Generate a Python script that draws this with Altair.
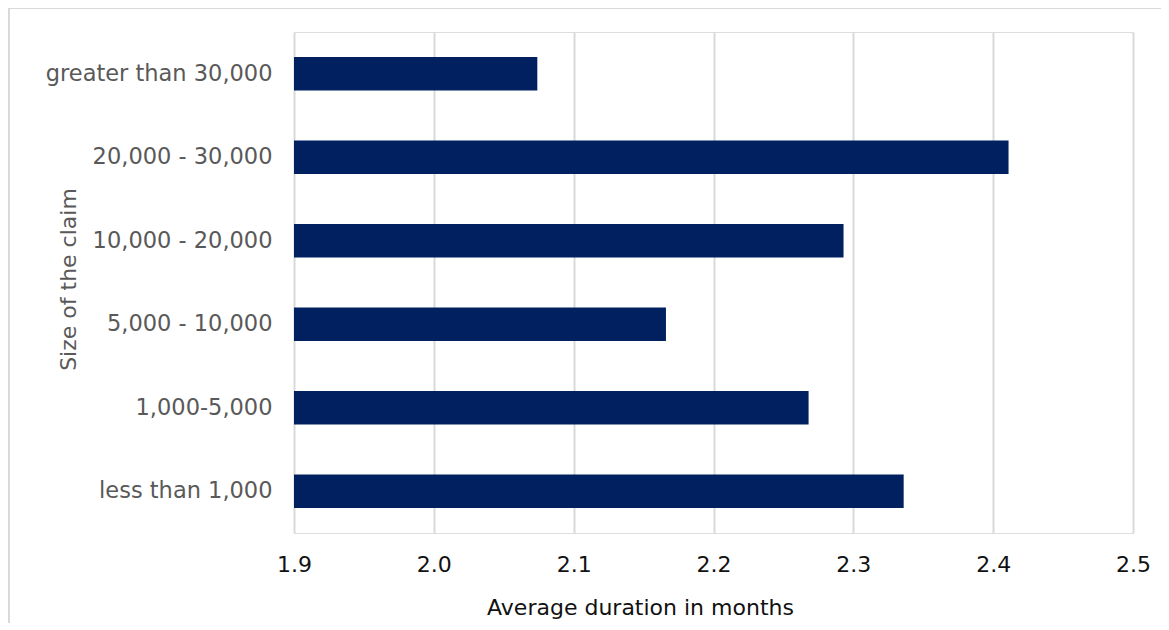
import altair as alt
import pandas as pd

categories = [
    "greater than 30,000",
    "20,000 - 30,000",
    "10,000 - 20,000",
    "5,000 - 10,000",
    "1,000-5,000",
    "less than 1,000",
]
durations = [2.074, 2.411, 2.293, 2.166, 2.268, 2.336]
x_ticks = [1.9, 2.0, 2.1, 2.2, 2.3, 2.4, 2.5]

df = pd.DataFrame({"size": categories, "duration": durations})

FONT = "DejaVu Sans"
GRID = "#d9d9d9"

bars = alt.Chart(df).mark_bar(color="#002060", clip=True).encode(
    x=alt.X(
        "duration:Q",
        scale=alt.Scale(domain=[1.9, 2.5], zero=False, nice=False),
        axis=alt.Axis(
            values=x_ticks,
            format=".1f",
            title="Average duration in months",
            grid=True,
            gridColor=GRID,
            gridWidth=2,
            domain=False,
            ticks=False,
            labelFlush=False,
            labelPadding=21,
            labelFont=FONT,
            labelFontSize=22,
            labelColor="#111111",
            titleFont=FONT,
            titleFontSize=22,
            titleFontWeight="normal",
            titleColor="#111111",
            titleX=346,
            titleY=81,
            titleAlign="center",
            titleBaseline="alphabetic",
        ),
    ),
    y=alt.Y(
        "size:N",
        sort=categories,
        scale=alt.Scale(paddingInner=0.6, paddingOuter=0.3),
        axis=alt.Axis(
            title="Size of the claim",
            grid=False,
            domain=False,
            ticks=False,
            labelPadding=22,
            labelFont=FONT,
            labelFontSize=22.5,
            labelColor="#595959",
            labelLimit=400,
            titleFont=FONT,
            titleFontSize=22,
            titleFontWeight="normal",
            titleColor="#595959",
            titleAngle=270,
            titleX=-219,
            titleY=247,
            titleAlign="center",
            titleBaseline="alphabetic",
        ),
    ),
)

frame_data = alt.Data(values=[{}])
frame_left = alt.Chart(frame_data).mark_rule(color=GRID, strokeWidth=2).encode(
    x=alt.value(-285), y=alt.value(-24), y2=alt.value(600)
)
frame_top = alt.Chart(frame_data).mark_rule(color=GRID, strokeWidth=2).encode(
    x=alt.value(-286), x2=alt.value(880), y=alt.value(-24)
)

chart = (
    alt.layer(frame_left, frame_top, bars)
    .properties(
        width=839,
        height=501,
        autosize=alt.AutoSizeParams(type="none"),
        padding={"left": 286, "top": 24, "right": 28, "bottom": 90},
    )
    .configure_view(stroke=None)
    .configure(background="white")
)

chart.save("out.html", embed_options={"renderer": "svg", "actions": False})
